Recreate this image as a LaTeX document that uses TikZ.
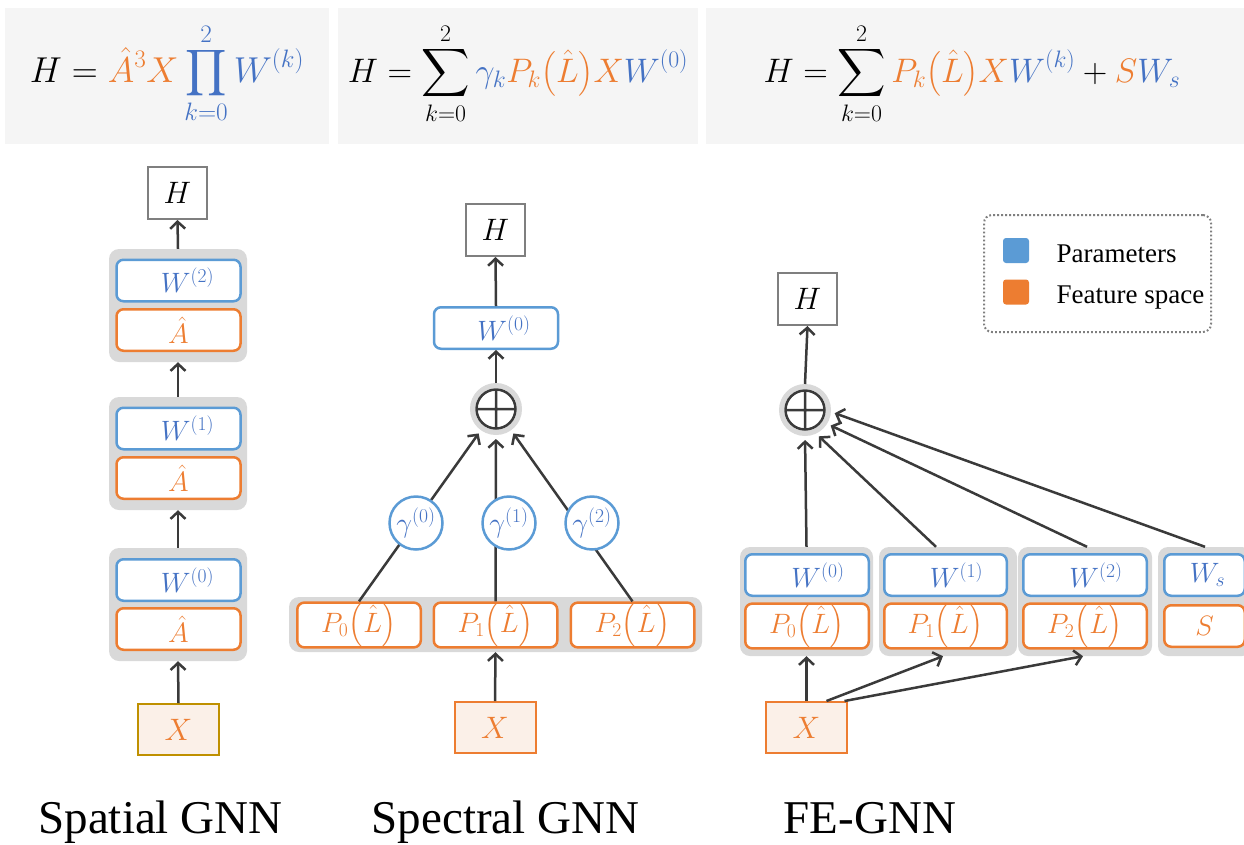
\RequirePackage{fix-cm}
\documentclass[tikz,border=0pt]{standalone}
\usepackage{amsmath}
\usepackage{graphicx}
\usepackage{fontspec}
\newfontfamily\tms{Liberation Serif}
\usetikzlibrary{arrows.meta}
\definecolor{ob}{HTML}{ED7D31}
\definecolor{bt}{HTML}{4472C4}
\definecolor{bb}{HTML}{5B9BD5}
\definecolor{gg}{HTML}{D9D9D9}
\definecolor{pan}{HTML}{F5F5F5}
\definecolor{xf}{HTML}{FBF0E8}
\definecolor{gold}{HTML}{BF9000}
\definecolor{ar}{HTML}{3A3A3A}
\definecolor{hb}{HTML}{7F7F7F}
\newcommand{\fsz}[1]{\fontsize{#1}{#1}\selectfont}
\newcommand{\bsum}{\mathop{\vcenter{\hbox{\scalebox{1.35}{$\displaystyle\sum$}}}}\limits}
\newcommand{\bprod}{\mathop{\vcenter{\hbox{\scalebox{1.3}{$\displaystyle\prod$}}}}\limits}
\newcommand{\sumsym}[1]{\draw[sumline] (#1.center) circle[radius=19.5pt] ([xshift=-19.5pt]#1.center) -- ([xshift=19.5pt]#1.center) ([yshift=-19.5pt]#1.center) -- ([yshift=19.5pt]#1.center);}
\begin{document}
\begin{tikzpicture}[x=1pt,y=-1pt,
  wbox/.style={draw=bb, line width=2.5pt, rounded corners=7pt, fill=white, minimum width=124pt, minimum height=41.5pt, inner sep=0pt, text=bt, font=\fsz{28}},
  abox/.style={wbox, draw=ob, text=ob},
  grp/.style={fill=gg, rounded corners=10pt, inner sep=0pt, minimum width=138pt, minimum height=113pt},
  hbox/.style={draw=hb, line width=2pt, fill=white, minimum width=59pt, minimum height=52pt, inner sep=0pt, font=\fsz{31}},
  xbox/.style={draw=ob, fill=xf, line width=2pt, minimum width=81pt, minimum height=51pt, inner sep=0pt, text=ob, font=\fsz{31}},
  arr/.style={draw=ar, line width=2.5pt, -{Straight Barb[length=7pt,width=15pt]}},
  sumring/.style={circle, draw=gg, line width=5pt, fill=white, minimum size=47pt, inner sep=0pt},
  sumline/.style={draw=ar, line width=2.5pt},
  gam/.style={circle, draw=bb, line width=2.5pt, fill=white, minimum size=53pt, inner sep=0pt, text=bt, font=\fsz{28}},
  lab/.style={font=\tms\fsz{47}, anchor=base},
  legtxt/.style={font=\tms\fsz{27}, anchor=base west},
  formula/.style={anchor=base, font=\fsz{34}},
  panel/.style={fill=pan}]
\useasboundingbox (0,0) rectangle (1244,844);
\clip (0,0) rectangle (1244,844);
\fill[white] (0,0) rectangle (1244,844);

% formula panels
\fill[panel] (5,8) rectangle (329,144);
\fill[panel] (338,8) rectangle (698,144);
\fill[panel] (706,8) rectangle (1250,144);
\node[formula, font=\fsz{36}] (f1) at (167,82) {$\displaystyle H = {\color{ob}\hat{A}^3X}\,{\color{bt}\bprod_{k=0}^{2}W^{(k)}}$};
\node[formula] (f2) at (518,82) {$\displaystyle H = \bsum_{k=0}^{2}{\color{bt}\gamma_k}{\color{ob}P_k\bigl(\hat{L}\bigr)X}{\color{bt}W^{(0)}}$};
\node[formula] (f3) at (972,82) {$\displaystyle H = \bsum_{k=0}^{2}{\color{ob}P_k\bigl(\hat{L}\bigr)X}{\color{bt}W^{(k)}} + {\color{ob}S}{\color{bt}W_s}$};

% ---------------- Spatial GNN
\node[hbox] (sH) at (177.5,193) {$H$};
\node[grp] (sg3) at (178,305.5) {};
\node[grp] (sg2) at (178,453.5) {};
\node[grp] (sg1) at (178,604.5) {};
\node[wbox] (sW2) at (178.5,280.5) {\hspace*{18pt}$W^{(2)}$};
\node[abox] (sA2) at (178.5,330) {$\hat{A}$};
\node[wbox] (sW1) at (178.5,428.5) {\hspace*{18pt}$W^{(1)}$};
\node[abox] (sA1) at (178.5,478) {$\hat{A}$};
\node[wbox] (sW0) at (178.5,580) {\hspace*{18pt}$W^{(0)}$};
\node[abox] (sA0) at (178.5,629) {$\hat{A}$};
\node[xbox, draw=gold] (sX) at (178.5,729.5) {$X$};
\draw[arr] (sX.north) -- (sg1.south);
\draw[arr] (sg1.north) -- (sg2.south);
\draw[arr] (sg2.north) -- (sg3.south);
\draw[arr] (sg3.north) -- (sH.south);

% ---------------- Spectral GNN
\node[hbox] (pH) at (495.5,230) {$H$};
\node[wbox] (pW) at (496,328) {\hspace*{16pt}$W^{(0)}$};
\node[sumring] (ps) at (496,409) {};
\sumsym{ps}
\node[grp, minimum width=413pt, minimum height=55pt] (pg) at (495.5,624.5) {};
\node[abox, minimum width=123.5pt] (pP0) at (359,625) {$P_0\bigl(\hat{L}\bigr)$};
\node[abox, minimum width=123.5pt] (pP1) at (495.5,625) {$P_1\bigl(\hat{L}\bigr)$};
\node[abox, minimum width=123.5pt] (pP2) at (632.5,625) {$P_2\bigl(\hat{L}\bigr)$};
\node[xbox] (pX) at (495,727.5) {$X$};
\draw[arr] (pX.north) -- (pg.south);
\draw[arr, shorten >=4pt] (pP0.north) -- (ps);
\draw[arr, shorten >=4pt] (pP1.north) -- (ps);
\draw[arr, shorten >=4pt] (pP2.north) -- (ps);
\draw[arr] (ps.north) -- (pW.south);
\draw[arr] (pW.north) -- (pH.south);
\node[gam] (pg0) at (416,523) {$\gamma^{(0)}$};
\node[gam] (pg1) at (509,523) {$\gamma^{(1)}$};
\node[gam] (pg2) at (592,523) {$\gamma^{(2)}$};

% ---------------- FE-GNN
\node[hbox] (fH) at (807.5,299) {$H$};
\node[sumring] (fs) at (805,410) {};
\sumsym{fs}
\node[grp, minimum width=133pt, minimum height=109pt] (fg0) at (806.5,601.5) {};
\node[grp, minimum width=138pt, minimum height=109pt] (fg1) at (948,601.5) {};
\node[grp, minimum width=134pt, minimum height=109pt] (fg2) at (1085,601.5) {};
\node[grp, minimum width=94pt, minimum height=109pt] (fg3) at (1205,601.5) {};
\node[wbox, minimum width=123.5pt] (fW0) at (807,575) {\hspace*{22pt}$W^{(0)}$};
\node[abox, minimum width=123.5pt] (fP0) at (807,626) {$P_0\bigl(\hat{L}\bigr)$};
\node[wbox, minimum width=122.5pt] (fW1) at (945.5,575) {\hspace*{22pt}$W^{(1)}$};
\node[abox, minimum width=122.5pt] (fP1) at (945.5,626) {$P_1\bigl(\hat{L}\bigr)$};
\node[wbox, minimum width=123.5pt] (fW2) at (1085,575) {\hspace*{22pt}$W^{(2)}$};
\node[abox, minimum width=123.5pt] (fP2) at (1085,626) {$P_2\bigl(\hat{L}\bigr)$};
\node[wbox, minimum width=80.5pt] (fWs) at (1204.5,575) {\hspace*{6pt}$W_s$};
\node[abox, minimum width=80.5pt] (fS) at (1204.5,626) {$S$};
\node[xbox] (fX) at (806.5,727.5) {$X$};
\draw[arr] (fX.north) -- (fg0.south);
\draw[arr] ([xshift=20pt]fX.north) -- ([xshift=-5pt]fg1.south);
\draw[arr] ([xshift=38pt]fX.north) -- ([xshift=-2pt]fg2.south);
\draw[arr, shorten >=4pt] (fg0.north) -- (fs.south);
\draw[arr, shorten >=4pt] ([xshift=-12pt]fg1.north) -- (fs.-65);
\draw[arr, shorten >=4pt] ([xshift=2pt]fg2.north) -- (fs.-32);
\draw[arr, shorten >=4pt] (fg3.north) -- (fs.-4);
\draw[arr] (fs.north) -- (fH.south);

% ---------------- legend
\node[draw=hb, line width=2pt, dash pattern=on 1.8pt off 2.2pt, rounded corners=8pt, minimum width=227pt, minimum height=117pt] (leg) at (1097.5,273.5) {};
\node[fill=bb, rounded corners=3pt, minimum width=26pt, minimum height=25pt, inner sep=0pt] (legb) at (1016,250.5) {};
\node[fill=ob, rounded corners=3pt, minimum width=26pt, minimum height=25pt, inner sep=0pt] (lego) at (1016,292) {};
\node[legtxt] (legbt) at (1053,262) {Parameters};
\node[legtxt] (legot) at (1053,303) {Feature space};

% ---------------- titles
\node[lab] (t1) at (160.5,833) {Spatial GNN};
\node[lab] (t2) at (505.5,833) {Spectral GNN};
\node[lab] (t3) at (870,833) {FE-GNN};
\end{tikzpicture}
\end{document}
